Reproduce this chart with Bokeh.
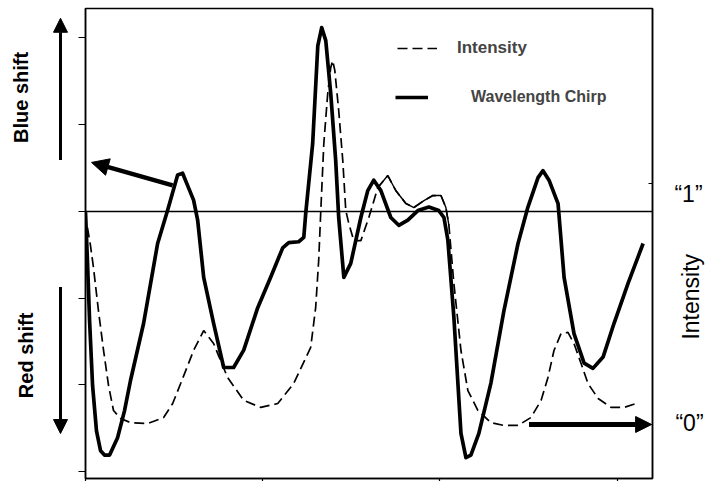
from math import pi
from bokeh.plotting import figure
from bokeh.layouts import row
from bokeh.models import (Range1d, LinearAxis, Span, Label, Arrow, NormalHead,
                          Legend, LegendItem, FixedTicker, ColumnDataSource)
from bokeh.embed import file_html
from bokeh.resources import INLINE

# ---------------- data ----------------
chirp_t = [0.000, 0.011, 0.023, 0.040, 0.062, 0.085, 0.107, 0.136, 0.181, 0.220,
           0.254, 0.328, 0.407, 0.463, 0.520, 0.548, 0.576, 0.610, 0.633, 0.667,
           0.723, 0.780, 0.836, 0.893, 0.972, 1.045, 1.113, 1.147, 1.203, 1.232,
           1.243, 1.282, 1.311, 1.333, 1.356, 1.384, 1.412, 1.429, 1.458, 1.497,
           1.554, 1.593, 1.627, 1.667, 1.723, 1.768, 1.819, 1.876, 1.938, 1.994,
           2.023, 2.045, 2.079, 2.119, 2.147, 2.175, 2.220, 2.288, 2.362, 2.441,
           2.497, 2.554, 2.582, 2.616, 2.667, 2.701, 2.757, 2.814, 2.864, 2.921,
           2.983, 3.062, 3.147]
chirp = [-0.01, -0.57, -1.26, -2.01, -2.53, -2.76, -2.81, -2.81, -2.61, -2.30,
         -1.95, -1.29, -0.37, 0.01, 0.42, 0.44, 0.30, 0.13, -0.10, -0.76,
         -1.29, -1.80, -1.80, -1.60, -1.11, -0.76, -0.42, -0.36, -0.35, -0.30,
         -0.02, 0.78, 1.91, 2.12, 1.97, 1.36, 0.59, -0.07, -0.76, -0.60,
         -0.07, 0.24, 0.36, 0.24, -0.07, -0.16, -0.10, 0.01, 0.05, 0.01,
         -0.07, -0.33, -1.22, -2.56, -2.84, -2.81, -2.56, -1.98, -1.14, -0.37,
         0.05, 0.39, 0.47, 0.36, 0.09, -0.76, -1.41, -1.75, -1.81, -1.68,
         -1.29, -0.83, -0.37]

int_t = [0.011, 0.028, 0.045, 0.073, 0.102, 0.130, 0.158, 0.198, 0.254, 0.350,
         0.441, 0.492, 0.537, 0.610, 0.667, 0.723, 0.802, 0.893, 0.989, 1.085,
         1.175, 1.271, 1.299, 1.316, 1.328, 1.345, 1.367, 1.384, 1.395, 1.407,
         1.429, 1.452, 1.469, 1.486, 1.514, 1.554, 1.599, 1.650, 1.706, 1.751,
         1.808, 1.853, 1.910, 1.960, 2.006, 2.034, 2.051, 2.079, 2.119, 2.158,
         2.215, 2.288, 2.362, 2.441, 2.514, 2.571, 2.610, 2.644, 2.684, 2.723,
         2.757, 2.797, 2.836, 2.893, 2.966, 3.040, 3.107]
intensity = [0.817, 0.743, 0.651, 0.473, 0.307, 0.162, 0.058, 0.025, 0.008, 0.004,
             0.029, 0.087, 0.170, 0.307, 0.390, 0.336, 0.195, 0.100, 0.071, 0.087,
             0.170, 0.320, 0.485, 0.680, 0.888, 1.166, 1.373, 1.481, 1.510, 1.469,
             1.303, 1.095, 0.888, 0.834, 0.763, 0.763, 0.859, 0.983, 1.033, 0.971,
             0.917, 0.900, 0.929, 0.950, 0.950, 0.900, 0.826, 0.585, 0.307, 0.141,
             0.058, 0.008, -0.004, -0.004, 0.029, 0.100, 0.195, 0.307, 0.378, 0.382,
             0.336, 0.253, 0.170, 0.108, 0.071, 0.071, 0.087]

x_ticks = [0, 1, 2, 3]
y_ticks = [-3, -2, -1, 0, 1, 2]
int_ticks = [0, 1]

FONT = "Liberation Sans"
H = 481


def bare_panel(w, x0, x1):
    f = figure(width=w, height=H, output_backend="svg", toolbar_location=None,
               title_location=None,
               x_range=Range1d(x0, x1), y_range=Range1d(H, 0),
               min_border=0, background_fill_color="white",
               border_fill_color="white", outline_line_color=None)
    f.axis.visible = False
    f.grid.visible = False
    return f


def lab(fig, x, y, text, size, style="normal", angle=0.0, font=FONT):
    fig.add_layout(Label(x=x, y=y, text=text, text_font=font, text_font_size=size,
                         text_font_style=style, angle=angle, text_align="center",
                         text_baseline="middle", text_color="black"))


def arrow(fig, x0, y0, x1, y1, w, size, **kw):
    fig.add_layout(Arrow(end=NormalHead(size=size, fill_color="black",
                                        line_color="black", line_width=1),
                         x_start=x0, y_start=y0, x_end=x1, y_end=y1,
                         line_width=w, line_color="black", **kw))


# ---------------- left panel (side captions) ----------------
left = bare_panel(70, 0, 70)
lab(left, 20, 91, "Blue shift", "20px", "bold", pi / 2)
lab(left, 25, 355, "Red shift", "20px", "bold", pi / 2)
arrow(left, 60, 155, 60, 10, 3, 14)
arrow(left, 60, 285, 60, 435, 3, 14)

# ---------------- main plot ----------------
p = figure(width=592, height=H, output_backend="svg", toolbar_location=None,
           title_location=None,
           x_range=Range1d(0, 3.2), y_range=Range1d(-3.08, 2.34),
           min_border_left=15, min_border_right=10, min_border_top=8,
           min_border_bottom=3, background_fill_color="white",
           border_fill_color="white")
p.extra_y_ranges = {"int": Range1d(-0.224, 1.726)}
p.grid.visible = False
p.outline_line_color = "black"
p.outline_line_width = 1.5

for ax in (p.xaxis[0], p.yaxis[0]):
    ax.major_label_text_font_size = "0px"
    ax.major_label_standoff = 0
    ax.minor_tick_line_color = None
    ax.minor_tick_out = 0
    ax.minor_tick_in = 0
    ax.major_tick_in = 0
    ax.axis_line_color = "black"
    ax.axis_line_width = 1.5
    ax.major_tick_line_width = 1.2
p.xaxis.ticker = FixedTicker(ticks=x_ticks)
p.xaxis.major_label_overrides = {t: "" for t in x_ticks}
p.xaxis.major_tick_out = 3
p.yaxis.ticker = FixedTicker(ticks=y_ticks)
p.yaxis.major_label_overrides = {t: "" for t in y_ticks}
p.yaxis.major_tick_out = 7

rax = LinearAxis(y_range_name="int", ticker=FixedTicker(ticks=int_ticks),
                 major_label_text_font_size="0px", major_label_standoff=0,
                 major_label_overrides={t: "" for t in int_ticks},
                 major_tick_in=4, major_tick_out=0, minor_tick_line_color=None,
                 minor_tick_out=0, minor_tick_in=0, axis_line_width=1.5)
p.add_layout(rax, "right")

p.add_layout(Span(location=0, dimension="width", line_color="black", line_width=1.5))

src_c = ColumnDataSource(dict(t=chirp_t, v=chirp))
src_i = ColumnDataSource(dict(t=int_t, v=intensity))
solid_part = slice(37, 47)
src_is = ColumnDataSource(dict(t=int_t[solid_part], v=intensity[solid_part]))

r_int = p.line("t", "v", source=src_i, y_range_name="int", line_color="black",
               line_width=1.7, line_dash="10 5")
p.line("t", "v", source=src_is, y_range_name="int", line_color="black", line_width=1.4)
r_chirp = p.line("t", "v", source=src_c, line_color="black", line_width=3.7,
                 line_join="round")

leg1 = Legend(items=[LegendItem(label="Intensity", renderers=[r_int])],
              location=(312, 420), padding=0, margin=0, glyph_width=40,
              glyph_height=20, label_height=20, label_standoff=20,
              border_line_color=None, background_fill_alpha=0,
              label_text_font=FONT, label_text_font_size="17px",
              label_text_font_style="bold")
leg2 = Legend(items=[LegendItem(label="Wavelength Chirp", renderers=[r_chirp])],
              location=(310, 371), padding=0, margin=0, glyph_width=33,
              glyph_height=20, label_height=20, label_standoff=43,
              border_line_color=None, background_fill_alpha=0,
              label_text_font=FONT, label_text_font_size="16px",
              label_text_font_style="bold")
p.add_layout(leg1)
p.add_layout(leg2)

arrow(p, 0.492, 0.300, 0.034, 0.565, 4.5, 17)
arrow(p, 2.503, -2.457, 3.195, -2.457, 5, 16)

# ---------------- right panel (intensity captions) ----------------
right = bare_panel(45, 662, 707)
lab(right, 688, 190, "\u201c1\u201d", "23px")
lab(right, 689, 424, "\u201c0\u201d", "23px")
lab(right, 690, 295, "Intensity", "23px", "normal", pi / 2)

layout = row(left, p, right, spacing=0)
open("out.html", "w").write(file_html(layout, INLINE))
